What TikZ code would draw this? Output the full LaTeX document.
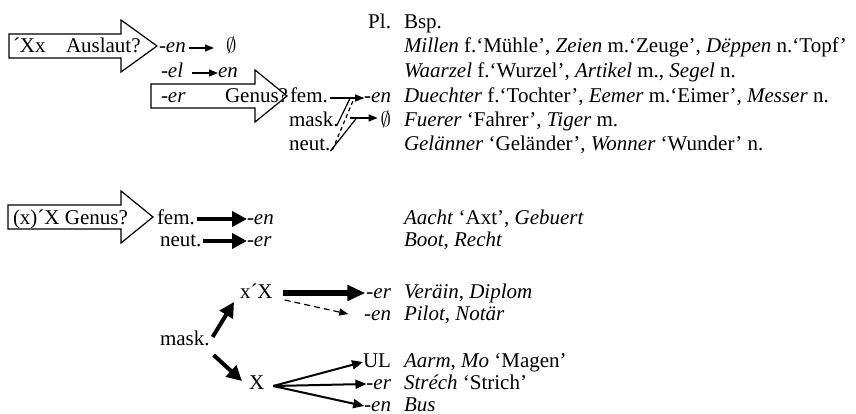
\documentclass[tikz,border=0pt]{standalone}
\usepackage{fontspec}
\setmainfont{Liberation Serif}
\usetikzlibrary{arrows.meta,calc}
\tikzset{
  txt/.style={inner sep=0pt, outer sep=0pt, text height=10pt, text depth=0pt, anchor=base west, font=\fontsize{21}{23}\selectfont},
  txtr/.style={txt, anchor=base east},
  blockarrow/.style={draw, line width=1.2pt, fill=white, line join=miter},
  plainline/.style={line width=1.2pt},
  thinarr/.style={line width=1.2pt, -{Triangle[length=9pt,width=7pt]}},
  dashline/.style={line width=1.2pt, dash pattern=on 4pt off 3pt},
  fanarr/.style={line width=2pt, -{Triangle[length=11pt,width=9pt]}},
  boldarr/.style={line width=4pt, -{Triangle[length=15pt,width=15pt]}},
  heavyarr/.style={line width=6pt, -{Triangle[length=18pt,width=15pt]}},
}
\begin{document}
\begin{tikzpicture}[x=1pt,y=-1pt]
\useasboundingbox (0,0) rectangle (856,414);

% ---------- block arrows ----------
\draw[blockarrow] (9,34) -- (121,34) -- (121,20) -- (157,46) -- (121,72) -- (121,58) -- (9,58) -- cycle;
\draw[blockarrow] (151,84) -- (255,84) -- (255,70) -- (287,96) -- (255,122) -- (255,108) -- (151,108) -- cycle;
\draw[blockarrow] (8,205) -- (121,205) -- (121,191) -- (153,217) -- (121,243) -- (121,229) -- (8,229) -- cycle;

% ---------- top section ----------
\node[txt] (a1) at (13,53) {´Xx};
\node[txt] (a1b) at (66,53) {Auslaut?};
\node[txt] (r1en) at (159,53) {\textit{-en}};
\node[txt] (r1null) at (226,53) {$\emptyset$};
\draw[thinarr, shorten <=3pt, shorten >=12pt] (r1en.east) -- (r1null.west);

\node[txt] (r2el) at (161,78) {\textit{-el}};
\node[txt] (r2en) at (218,78) {\textit{en}};
\draw[thinarr, shorten <=9pt] (r2el.east) -- (r2en.west);

\node[txt] (b2er) at (161,103) {\textit{-er}};
\node[txtr] (b2g) at (288,103) {Genus?};

\node[txt] (fem) at (290,103) {fem.};
\node[txt] (mask) at (289,127) {mask.};
\node[txt] (neut) at (289,151) {neut.};

\node[txtr] (pl) at (391,29) {Pl.};
\node[txt] (bsp) at (404,29) {Bsp.};
\node[txtr] (fen) at (391,103) {\textit{-en}};
\node[txtr] (mnull) at (391,127) {$\emptyset$};

\node[txt] (e1) at (404,53) {\textit{Millen} f.‘Mühle’, \textit{Zeien} m.‘Zeuge’, \textit{Dëppen} n.‘Topf’};
\node[txt] (e2) at (404,78) {\textit{Waarzel} f.‘Wurzel’, \textit{Artikel} m., \textit{Segel} n.};
\node[txt] (e3) at (404,103) {\textit{Duechter} f.‘Tochter’, \textit{Eemer} m.‘Eimer’, \textit{Messer} n.};
\node[txt] (e4) at (404,127) {\textit{Fuerer} ‘Fahrer’, \textit{Tiger} m.};
\node[txt] (e5) at (404,151) {\textit{Gelänner} ‘Geländer’, \textit{Wonner} ‘Wunder’ n.};

\coordinate (J1) at ($(fen.west)+(-14,0)$);
\coordinate (J2) at ($(fen.west)+(-10,0)$);
\coordinate (K) at ($(mnull.west)+(-24,-4)$);
\coordinate (Ks) at ($(mnull.west)+(-31,-4)$);
\coordinate (Kt) at ($(mnull.west)+(-3,-4)$);

\draw[thinarr, shorten <=2pt] (fem.east) -- (fen.west);
\draw[plainline] ($(mask.east)+(-2,4)$) -- (J1);
\draw[dashline] ($(neut.east)+(2,4)$) -- (J2);
\draw[plainline] ($(neut.east)+(0,5)$) -- (K);
\draw[thinarr] (Ks) -- (Kt);

% ---------- middle section ----------
\node[txt] (c3) at (13,224) {(x)´X Genus?};
\node[txt] (mfem) at (157,224) {fem.};
\node[txt] (mneut) at (160,246) {neut.};
\node[txt] (men) at (247,224) {\textit{-en}};
\node[txt] (mer) at (247,246) {\textit{-er}};
\draw[boldarr, shorten <=2pt] (mfem.east) -- (men.west);
\draw[boldarr, shorten <=2pt] (mneut.east) -- (mer.west);
\node[txt] (e6) at (404,224) {\textit{Aacht} ‘Axt’, \textit{Gebuert}};
\node[txt] (e7) at (404,246) {\textit{Boot}, \textit{Recht}};

% ---------- bottom section ----------
\node[txt] (bmask) at (160,345) {mask.};
\node[txt] (xX) at (240,298) {x´X};
\node[txt] (X) at (249,389) {X};
\node[txtr] (ver) at (391,298) {\textit{-er}};
\node[txtr] (pen) at (391,320) {\textit{-en}};
\node[txtr] (ul) at (391,367) {UL};
\node[txtr] (ser) at (391,389) {\textit{-er}};
\node[txtr] (sen) at (391,411) {\textit{-en}};
\node[txt] (e8) at (404,298) {\textit{Veräin}, \textit{Diplom}};
\node[txt] (e9) at (404,320) {\textit{Pilot}, \textit{Notär}};
\node[txt] (e10) at (404,367) {\textit{Aarm}, \textit{Mo} ‘Magen’};
\node[txt] (e11) at (404,389) {\textit{Stréch} ‘Strich’};
\node[txt] (e12) at (404,411) {\textit{Bus}};

\draw[heavyarr, shorten <=10pt, shorten >=1pt] (xX.east) -- (ver.west);
\draw[thinarr, dash pattern=on 6pt off 4pt] ($(xX.east)+(12,7)$) -- ($(pen.west)+(-16,-1)$);
\draw[boldarr] ($(bmask.north east)+(3,2)$) -- ($(xX.south west)+(-6,4)$);
\draw[boldarr] ($(bmask.south east)+(4,10)$) -- ($(X.west)+(-7,-3)$);
\draw[fanarr] ($(X.east)+(9,2)$) -- (ul.west);
\draw[fanarr] ($(X.east)+(9,2)$) -- (ser.west);
\draw[fanarr] ($(X.east)+(9,2)$) -- (sen.west);
\end{tikzpicture}
\end{document}
